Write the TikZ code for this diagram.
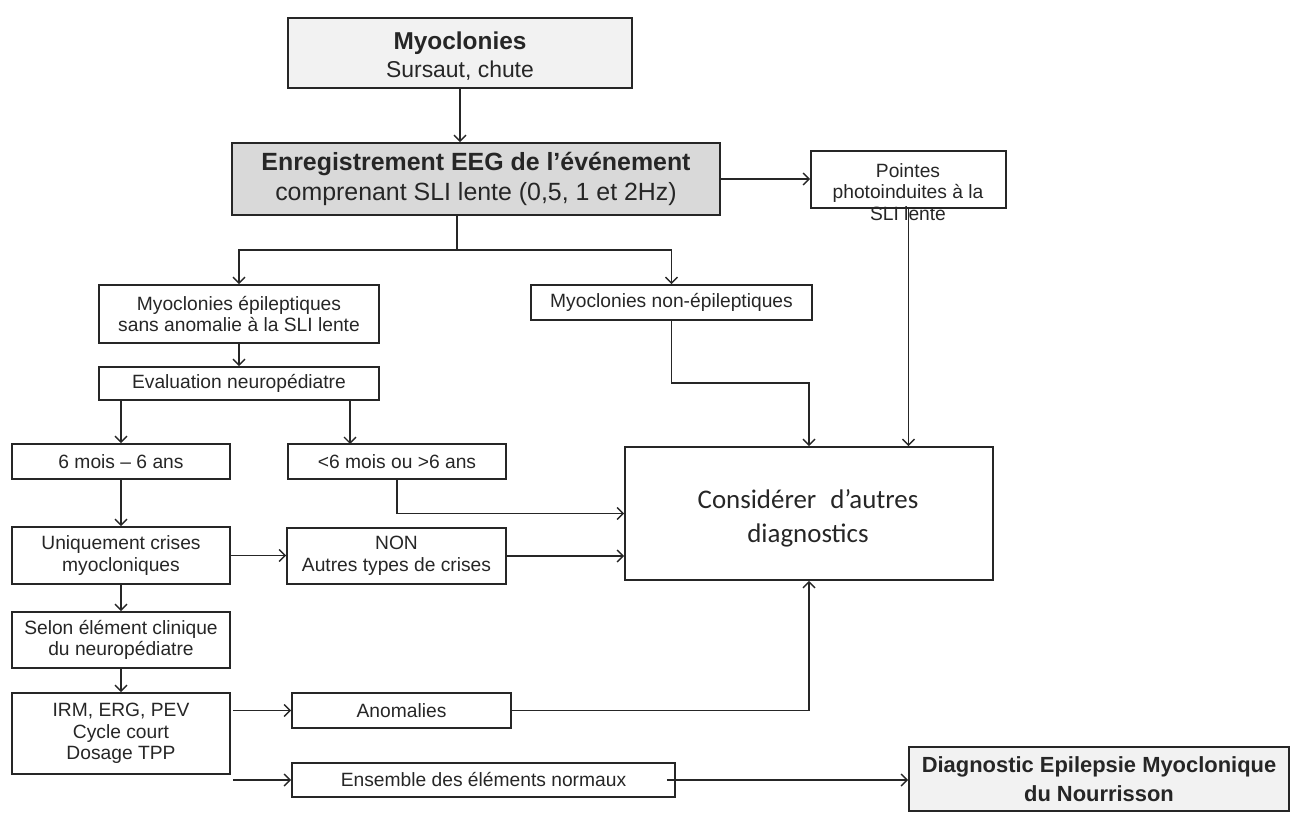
\documentclass[tikz,border=0pt]{standalone}
\usepackage{fontspec}
\setmainfont{Liberation Sans}
\newfontfamily\calib{Carlito}
\usetikzlibrary{arrows.meta}
\definecolor{ink}{HTML}{262626}
\definecolor{lightfill}{HTML}{F2F2F2}
\definecolor{darkfill}{HTML}{D9D9D9}
\tikzset{
  box/.style={draw=ink, line width=1.6bp, inner sep=0pt, align=center, text=ink,
    font=\fontsize{19.3}{21.8}\selectfont},
  txt/.style={inner sep=0pt, align=center, text=ink},
  arr/.style={draw=ink, line width=1.5bp, -{Straight Barb[length=6bp,width=12bp,line width=1.4bp]}},
  ln/.style={draw=ink, line width=1.5bp},
}
\begin{document}
\begin{tikzpicture}[x=1bp,y=-1bp]
\useasboundingbox (0,0) rectangle (1294,821);

% boxes
\node[box, fill=lightfill, minimum width=344bp, minimum height=70bp] (myo) at (460,53) {};
\node[txt, font=\fontsize{23}{28}\selectfont] (myotxt) at (460,56)
  {\textbf{\fontsize{24.5}{28}\selectfont Myoclonies}\\Sursaut, chute};
\node[box, fill=darkfill, minimum width=488bp, minimum height=72bp, font=\fontsize{25}{31}\selectfont] (eeg) at (476,179)
  {\textbf{Enregistrement EEG de l’événement}\\comprenant SLI lente (0,5, 1 et 2Hz)};
\node[box, minimum width=195bp, minimum height=57bp] (pointes) at (908.5,179.5) {};
\node[txt, font=\fontsize{19.3}{21.8}\selectfont] (pointestxt) at (908,192) {Pointes\\photoinduites à la\\SLI lente};
\node[box, minimum width=280bp, minimum height=58bp] (epil) at (239,314)
  {Myoclonies épileptiques\\sans anomalie à la SLI lente};
\node[box, minimum width=280bp, minimum height=33bp] (eval) at (239,383.5) {Evaluation neuropédiatre};
\node[box, minimum width=281bp, minimum height=35bp] (nonepil) at (671.5,302.5) {Myoclonies non-épileptiques};
\node[box, minimum width=218bp, minimum height=35bp] (six) at (121,461.5) {6 mois – 6 ans};
\node[box, minimum width=218bp, minimum height=35bp] (lt6) at (397,461.5) {<6 mois ou >6 ans};
\node[box, minimum width=218bp, minimum height=57bp] (uniq) at (121,555.5) {Uniquement crises\\myocloniques};
\node[box, minimum width=219bp, minimum height=56bp] (non) at (396.5,556) {NON\\Autres types de crises};
\node[box, minimum width=218bp, minimum height=56bp] (selon) at (121,640) {Selon élément clinique\\du neuropédiatre};
\node[box, minimum width=218bp, minimum height=81bp] (irm) at (121,733.5) {IRM, ERG, PEV\\Cycle court\\Dosage TPP};
\node[box, minimum width=219bp, minimum height=35bp] (anom) at (401.5,710.5) {Anomalies};
\node[box, minimum width=383bp, minimum height=34bp] (ens) at (483.5,780) {Ensemble des éléments normaux};
\node[box, minimum width=368bp, minimum height=133bp] (cons) at (809,513.5) {};
\node[txt, font=\calib\fontsize{27}{34}\selectfont] (constxt) at (808,518)
  {Considérer\hspace{0.3em} d’autres\\diagnostics};
\node[box, fill=lightfill, minimum width=380bp, minimum height=64bp, font=\fontsize{22}{29}\selectfont\bfseries] (diag) at (1099,779)
  {Diagnostic Epilepsie Myoclonique\\du Nourrisson};

% connectors
\draw[arr] (myo.south) -- (myo.south |- eeg.north);
\coordinate (split) at (457,250);
\draw[ln] (split |- eeg.south) -- (split);
\draw[arr] (split) -| (epil.north);
\draw[arr] (split) -| (nonepil.north);
\draw[arr] (eeg.east) -- (eeg.east -| pointes.west);
\draw[arr] (pointes.south) -- (pointes.south |- cons.north);
\coordinate (bend) at (809,383);
\draw[arr] (nonepil.south) |- (bend) -- (bend |- cons.north);
\draw[arr] (epil.south) -- (eval.north);
\draw[arr] (six.north |- eval.south) -- (six.north);
\coordinate (rb) at (350,444);
\draw[arr] (rb |- eval.south) -- (rb);
\draw[arr] (lt6.south) |- (cons.west);
\draw[arr] (non.east) -- (non.east -| cons.west);
\draw[arr] (six.south) -- (uniq.north);
\draw[arr] (uniq.east) -- (uniq.east -| non.west);
\draw[arr] (uniq.south) -- (selon.north);
\draw[arr] (selon.south) -- (irm.north);
\draw[arr] ([xshift=2bp]irm.east |- anom.west) -- (anom.west);
\draw[arr] ([xshift=2bp]irm.east |- ens.west) -- (ens.west);
\draw[arr] (anom.east) -| (cons.south);
\draw[arr] ([xshift=-9bp]ens.east) -- (ens.east -| diag.west);
\end{tikzpicture}
\end{document}
